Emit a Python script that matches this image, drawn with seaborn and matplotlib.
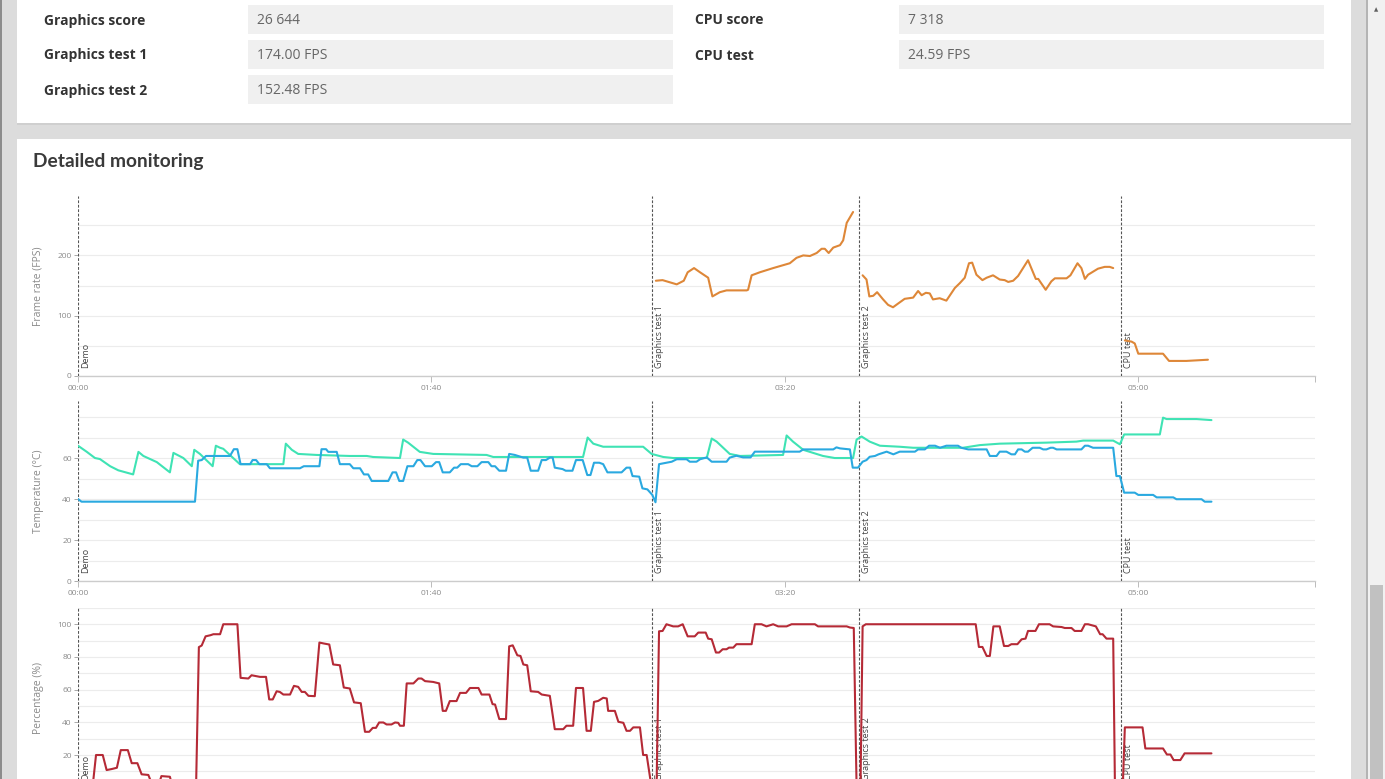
import numpy as np
import pandas as pd
import seaborn as sns
import matplotlib.pyplot as plt
from matplotlib.patches import Rectangle
from matplotlib.ticker import FixedLocator

# --- Score table ---
left_labels = ["Graphics score", "Graphics test 1", "Graphics test 2"]
left_values = ["26 644", "174.00 FPS", "152.48 FPS"]
right_labels = ["CPU score", "CPU test"]
right_values = ["7 318", "24.59 FPS"]

# --- Test markers (seconds) ---
marker_names = ["Demo", "Graphics test 1", "Graphics test 2", "CPU test"]
marker_times = [0, 162.4, 220.9, 295.0]
tick_secs = [0, 100, 200, 300]
x_end = 350

# --- Frame rate (FPS) per test ---
gt1_t = [163.5, 165.4, 169.4, 171.4, 172.5, 174.3, 176.0, 178.3, 179.5, 181.6,
         183.5, 189.2, 189.6, 190.6, 192.9, 196.7, 201.4, 203.3, 205.2, 207.1,
         209.0, 210.4, 211.3, 212.4, 213.7, 215.6, 216.5, 217.5, 219.3]
gt1_fps = [158, 159, 152, 158, 172, 179, 172, 163, 132, 139,
           142, 142, 143, 167, 172, 179, 187, 196, 200, 199,
           204, 211, 211, 204, 213, 217, 225, 254, 272]
gt2_t = [222.0, 223.1, 223.9, 225.0, 226.1, 227.8, 229.2, 230.6, 232.0, 233.9,
         236.3, 237.7, 238.7, 239.9, 241.0, 241.9, 243.8, 245.7, 248.1, 249.5,
         250.9, 252.1, 253.0, 254.2, 255.9, 257.1, 258.9, 260.8, 262.2, 263.2,
         264.6, 266.0, 268.8, 271.0, 271.7, 273.8, 275.4, 276.4, 279.7, 280.8,
         282.8, 283.9, 284.9, 285.8, 288.6, 290.5, 291.9, 292.9]
gt2_fps = [167, 160, 132, 133, 139, 127, 118, 114, 120, 128,
           130, 141, 134, 138, 137, 127, 129, 125, 146, 154,
           163, 187, 188, 168, 159, 163, 167, 160, 159, 156,
           158, 166, 192, 161, 161, 143, 157, 162, 162, 167,
           187, 179, 161, 168, 178, 181, 181, 179]
cpu_t = [296.2, 298.1, 299.0, 300.0, 307.0, 308.7, 313.6, 319.7]
cpu_fps = [59, 57, 54, 37, 37, 25, 25, 27]

# --- Temperatures (°C) ---
cpu_temp_t = [0, 2.5, 4.8, 6.2, 9.1, 11.4, 15.6, 17.1, 18.5, 22.3,
              26.0, 27.0, 29.8, 32.2, 32.9, 34.5, 38.1, 39.0, 40.2, 41.1,
              43.9, 45.8, 58.1, 58.8, 60.5, 62.3, 67.5, 76.9, 81.7, 83.5,
              91.1, 92.0, 93.4, 96.7, 100.5, 115.6, 117.5, 142.9, 144.2, 145.8,
              148.6, 159.9, 162.3, 165.6, 168.4, 177.9, 179.3, 180.7, 184.4, 187.3,
              199.5, 200.5, 202.3, 205.2, 210.8, 214.1, 219.3, 220.3, 221.7, 224.0,
              226.9, 232.5, 236.3, 250.4, 255.2, 260.8, 274.0, 282.5, 284.4, 292.9,
              294.8, 296.0, 306.1, 307.0, 308.0, 316.5, 320.7]
cpu_temp = [66, 63, 60, 59.5, 56, 54, 52, 63, 61, 58,
            53, 62.5, 60, 56, 64, 62, 56, 66, 65, 64.5,
            60, 57, 57, 67, 64, 62, 61.5, 61, 61, 60.5,
            60, 69, 67.5, 63, 62, 61.5, 60.5, 60.5, 70, 67,
            65.5, 65.5, 62, 60.5, 60, 60, 69.5, 68, 62, 61,
            61.5, 71, 68, 64, 61, 60, 60, 69, 70.5, 68,
            66, 65.5, 65, 65, 66.3, 67, 67.5, 68, 68.5, 68.5,
            66.7, 71.5, 71.5, 79.7, 79, 79, 78.5]

gpu_temp_t = [0, 1.0, 33.1, 34.0, 35.0, 36.2, 43.0, 44.1, 45.1, 46.0,
              48.7, 49.4, 50.4, 51.3, 53.4, 54.3, 62.8, 63.9, 68.3, 68.9,
              70.2, 70.8, 73.2, 74.1, 76.9, 77.9, 79.8, 80.9, 82.1, 83.1,
              87.8, 89.0, 90.0, 90.9, 92.0, 93.2, 94.9, 96.0, 96.9, 98.2,
              100.1, 101.3, 102.2, 103.2, 105.2, 106.4, 107.3, 108.3, 110.4, 111.4,
              113.0, 114.2, 116.1, 117.0, 118.0, 119.2, 121.1, 122.0, 123.6, 126.0,
              127.1, 128.1, 130.2, 131.2, 132.4, 133.5, 134.3, 134.9, 137.1, 138.0,
              139.9, 140.9, 142.8, 144.1, 145.0, 146.0, 147.5, 148.6, 149.8, 153.8,
              155.2, 156.2, 156.9, 158.8, 159.7, 161.1, 162.5, 163.4, 164.4, 166.5,
              168.0, 169.4, 172.2, 173.1, 175.0, 176.0, 177.9, 179.3, 183.5, 184.4,
              186.3, 188.2, 190.3, 191.5, 204.2, 205.2, 213.7, 214.6, 215.6, 218.4,
              219.2, 220.7, 222.0, 223.1, 224.0, 225.5, 226.5, 228.8, 230.7, 232.5,
              236.8, 237.7, 239.6, 240.8, 242.5, 243.9, 245.7, 249.0, 249.9, 251.9,
              257.1, 258.0, 259.9, 260.8, 262.7, 264.1, 265.1, 266.0, 267.0, 267.9,
              268.8, 270.1, 272.1, 273.1, 274.0, 275.2, 275.9, 276.9, 283.9, 284.9,
              285.8, 287.2, 292.9, 293.8, 294.8, 296.0, 299.0, 300.0, 304.2, 305.2,
              309.9, 310.8, 317.9, 318.8, 320.7]
gpu_temp = [40, 38.7, 38.7, 58.7, 59, 61, 61, 64.3, 64.3, 57,
            57, 59, 59, 57, 57, 55, 55, 56, 56, 64.3,
            64.3, 63, 63, 57, 57, 55, 55, 52, 52, 48.8,
            48.8, 53, 53, 48.8, 48.8, 56, 56, 59, 59, 56,
            56, 58, 58, 53, 53, 55.3, 55.3, 57, 57, 56,
            56, 58, 58, 56, 56, 53.8, 53.8, 62, 61.5, 60.2,
            60.2, 53.8, 53.8, 59, 59, 60.2, 60.2, 55.3, 54.6, 53.8,
            53.8, 59, 59, 51.7, 51.7, 57.7, 57.7, 57, 53, 53,
            55.3, 55.3, 51.2, 50.9, 45.2, 44.7, 42, 38.4, 57, 57.7,
            58.2, 59.4, 59.4, 58.2, 58.2, 59.4, 60.3, 58.2, 58.2, 60.2,
            61.1, 60.3, 60.3, 63.1, 63.1, 64.2, 64.2, 65.2, 64.7, 64.2,
            55.3, 55.3, 58.2, 59, 60.6, 61, 61.8, 63.1, 61.8, 63.1,
            63.1, 64.2, 64.2, 66, 66, 65, 66, 66, 65, 64.2,
            64.2, 61, 61, 63.1, 63.1, 61.8, 61.8, 64.2, 64.2, 63.1,
            63.1, 65, 65, 64.2, 64.2, 65, 65, 64.2, 64.2, 66,
            66, 65, 65, 51.2, 51.2, 43.1, 43.1, 42, 42, 40.8,
            40.8, 39.9, 39.9, 38.7, 38.7]

# --- Percentage (%) ---
load_t = [0, 4.2, 5.1, 7.0, 8.1, 9.5, 11.0, 12.1, 14.1, 15.2,
          16.8, 18.0, 19.9, 20.8, 23.0, 23.6, 26.0, 26.8, 33.4, 34.2,
          35.0, 36.1, 37.5, 38.3, 40.2, 41.1, 45.1, 46.0, 48.2, 49.1,
          50.5, 51.5, 53.2, 54.1, 55.1, 56.2, 57.1, 58.1, 60.0, 61.1,
          62.3, 63.3, 64.2, 65.2, 67.0, 68.3, 69.6, 71.1, 72.2, 74.1,
          75.2, 76.9, 78.1, 80.0, 81.2, 82.4, 83.4, 84.3, 85.2, 86.4,
          87.3, 88.7, 89.7, 90.6, 91.1, 92.2, 93.0, 94.9, 96.3, 97.2,
          98.2, 100.5, 102.2, 103.2, 104.1, 105.2, 107.1, 108.1, 109.8, 110.9,
          113.3, 114.2, 116.4, 117.3, 118.0, 119.2, 121.1, 122.0, 123.0, 124.3,
          125.2, 126.0, 127.1, 128.1, 130.2, 131.2, 133.5, 134.9, 137.3, 138.2,
          140.1, 140.9, 142.9, 143.9, 145.1, 146.0, 147.2, 148.6, 149.6, 150.0,
          151.9, 152.9, 154.3, 155.2, 156.2, 157.1, 159.0, 159.9, 160.9, 162.3,
          163.7, 164.4, 165.4, 166.5, 168.4, 169.8, 171.1, 172.5, 174.5, 175.5,
          177.6, 178.3, 179.3, 180.5, 181.4, 182.4, 183.5, 184.2, 185.4, 186.3,
          190.6, 191.5, 193.4, 194.8, 196.7, 198.1, 200.5, 201.9, 208.5, 209.4,
          217.5, 218.4, 219.5, 220.3, 221.4, 222.0, 222.9, 254.0, 254.9, 255.9,
          257.1, 258.0, 259.0, 260.8, 262.0, 263.2, 264.1, 265.8, 267.0, 268.1,
          268.8, 270.9, 271.9, 274.9, 275.9, 278.3, 279.2, 281.1, 282.0, 283.9,
          284.9, 285.8, 288.0, 289.2, 289.9, 291.0, 292.9, 293.4, 295.6, 296.2,
          301.2, 302.0, 307.0, 308.1, 309.1, 310.0, 311.9, 313.1, 320.7]
load = [2, 2, 20, 20, 10.8, 11.4, 12.2, 23, 23, 15,
        15, 8.2, 7.8, 3, 3, 7.1, 6.7, 0, 0, 86,
        87, 92.6, 93.3, 93.9, 93.9, 100, 100, 67.2, 66.8, 68.8,
        68.2, 67.8, 67.8, 54, 54, 59, 58.6, 57, 57, 62.3,
        61.7, 58.6, 58.6, 56.2, 56, 88.8, 88.2, 87.6, 75.4, 74.9,
        61.3, 60.7, 52.2, 51.7, 34.2, 34.2, 36.6, 36.6, 39.9, 39.9,
        38.7, 38.7, 39.9, 39.7, 37.9, 37.9, 63.8, 63.8, 66.8, 66.8,
        65.2, 64.7, 63.8, 47, 47, 53, 53, 58, 58, 61,
        61, 57, 57, 51.1, 50.9, 42, 42, 86.5, 87.1, 81,
        80.6, 75.4, 74.9, 59, 58.6, 57, 56.2, 35.8, 35.8, 37.9,
        37.9, 61, 61, 34.8, 34.8, 52.5, 53.1, 55, 54.6, 47,
        47, 40.3, 39.7, 34.8, 34.8, 36.9, 36.9, 20, 20, 0,
        0, 95.7, 95.9, 100, 98.7, 98.7, 100, 92.6, 92.6, 94.9,
        94.9, 91.2, 90.8, 82.7, 82.7, 84.7, 84.7, 85.7, 85.7, 87.8,
        87.8, 100, 100, 98.7, 100, 98.7, 98.7, 100, 100, 98.7,
        98.7, 98, 97.7, 0, 0, 98.7, 100, 100, 86.1, 86.1,
        80.6, 80.6, 98.7, 98.7, 86.7, 86.7, 87.8, 87.8, 90.8, 91.2,
        95.9, 95.9, 100, 100, 98.7, 98.3, 97.7, 97.7, 95.9, 95.9,
        100, 100, 98.7, 93.9, 93.9, 91.2, 91.2, 0, 0, 36.9,
        36.9, 24, 24, 20.3, 20.3, 16.9, 16.9, 21, 21]

fps_df = pd.concat([
    pd.DataFrame({"t": gt1_t, "fps": gt1_fps, "test": "Graphics test 1"}),
    pd.DataFrame({"t": gt2_t, "fps": gt2_fps, "test": "Graphics test 2"}),
    pd.DataFrame({"t": cpu_t, "fps": cpu_fps, "test": "CPU test"}),
])

# --- Style ---
sns.set_theme(style="white")
plt.rcParams["font.family"] = ["Open Sans", "DejaVu Sans"]

W, H = 1385, 779
fig = plt.figure(figsize=(W / 100, H / 100), dpi=100)
fig.patch.set_facecolor("#dcdcdc")


def rect(x0, y0, x1, y1, color, z=0):
    fig.add_artist(Rectangle((x0 / W, 1 - y1 / H), (x1 - x0) / W, (y1 - y0) / H,
                             transform=fig.transFigure, facecolor=color,
                             edgecolor="none", zorder=z))


# page chrome: cards, shadows, scrollbar
rect(0, 0, 2, H, "#8c8c8c")
rect(17, -5, 1351, 125, "#cfcfcf")
rect(17, -5, 1351, 123, "white")
rect(17, 139, 1351, H + 5, "white")
rect(1366, 0, 1368, H, "#b4b4b4")
rect(1368, 0, W, H, "#f1f1f1")
rect(1370, 585, 1383, H, "#c1c1c1")
fig.text(1376.5 / W, 1 - 10 / H, "\u25b2", fontsize=4, color="#606060",
         ha="center", va="center", family="DejaVu Sans")

for row, (lab, val) in enumerate(zip(left_labels, left_values)):
    yc = 19.5 + 35 * row
    rect(248, yc - 14.5, 673, yc + 14.5, "#f0f0f0", z=1)
    fig.text(44 / W, 1 - (yc + 1) / H, lab, fontsize=10, weight="bold", color="#333333",
             ha="left", va="center", zorder=2)
    fig.text(257 / W, 1 - (yc + 1) / H, val, fontsize=10, color="#666666",
             ha="left", va="center", zorder=2)
for row, (lab, val) in enumerate(zip(right_labels, right_values)):
    yc = 19.5 + 35 * row
    rect(899, yc - 14.5, 1324, yc + 14.5, "#f0f0f0", z=1)
    fig.text(695 / W, 1 - (yc + 1) / H, lab, fontsize=10, weight="bold", color="#333333",
             ha="left", va="center", zorder=2)
    fig.text(908 / W, 1 - (yc + 1) / H, val, fontsize=10, color="#666666",
             ha="left", va="center", zorder=2)

fig.text(33 / W, 1 - 162 / H, "Detailed monitoring", fontsize=13.8, weight="bold",
         color="#3a3a3a", ha="left", va="center", family=["Lato", "DejaVu Sans"])


def panel(top, bottom):
    return fig.add_axes([78 / W, 1 - bottom / H, (1315 - 78) / W, (bottom - top) / H])


def style_panel(ax, ymax, step, labelled, ylabel, xlabels=True):
    ax.set_facecolor("none")
    ax.set_xlim(0, x_end)
    ax.set_ylim(0, ymax)
    for side in ["top", "right", "left"]:
        ax.spines[side].set_visible(False)
    ax.spines["bottom"].set_color("#cccccc")
    ax.spines["bottom"].set_linewidth(1)
    ax.yaxis.set_major_locator(FixedLocator(labelled))
    ax.yaxis.set_minor_locator(FixedLocator(np.arange(step, ymax, step)))
    ax.grid(which="both", axis="y", color="#ececec", lw=0.8)
    ax.grid(False, axis="x")
    ax.tick_params(axis="y", which="minor", length=0, left=False)
    ax.tick_params(axis="y", which="major", left=True, length=3, width=0.7,
                   color="#aaaaaa", labelsize=6, labelcolor="#8a8a8a", pad=1.5)
    ax.set_xticks(tick_secs + [x_end])
    if xlabels:
        ax.set_xticklabels([f"{s // 60:02d}:{s % 60:02d}" for s in tick_secs] + [""])
    else:
        ax.set_xticklabels([])
    ax.tick_params(axis="x", bottom=True, length=4.5, width=0.7, color="#bbbbbb",
                   labelsize=6, labelcolor="#8a8a8a", pad=2)
    ax.set_xlabel("")
    ax.set_ylabel(ylabel, fontsize=7.5, color="#8a8a8a")
    ax.yaxis.label.set_verticalalignment("center")
    ax.yaxis.set_label_coords(-40 / 1237, 0.5)
    for name, t in zip(marker_names, marker_times):
        ax.axvline(t, color="#555555", lw=0.8, ls=(0, (2.5, 1.5)), zorder=3)
        ax.annotate(name, xy=(t, 0), xycoords=("data", "axes fraction"),
                    xytext=(3, 8), textcoords="offset pixels", rotation=90,
                    ha="left", va="bottom", fontsize=6.5, color="#444444", zorder=3)


# frame rate
ax1 = panel(195.6, 376)
sns.lineplot(data=fps_df, x="t", y="fps", units="test", estimator=None,
             color="#de8738", lw=1.5, ax=ax1, zorder=4)
style_panel(ax1, 1.1 * max(gt1_fps + gt2_fps + cpu_fps), 50, [0, 100, 200],
            "Frame rate (FPS)")

# temperature
ax2 = panel(401.3, 581)
sns.lineplot(x=cpu_temp_t, y=cpu_temp, estimator=None, sort=False,
             color="#3fe3b4", lw=1.5, ax=ax2, zorder=4)
sns.lineplot(x=gpu_temp_t, y=gpu_temp, estimator=None, sort=False,
             color="#2aa9e0", lw=1.5, ax=ax2, zorder=5)
style_panel(ax2, 1.1 * max(cpu_temp + gpu_temp), 10, [0, 20, 40, 60],
            "Temperature (\u00b0C)")

# percentage (bottom of this panel runs past the screenshot edge)
ax3 = panel(607.9, 787.7)
sns.lineplot(x=load_t, y=load, estimator=None, sort=False,
             color="#b52a36", lw=1.5, ax=ax3, zorder=4)
style_panel(ax3, 1.1 * max(load), 10, [20, 40, 60, 80, 100],
            "Percentage (%)", xlabels=False)

fig.savefig("out.png", dpi=100, facecolor=fig.get_facecolor())
